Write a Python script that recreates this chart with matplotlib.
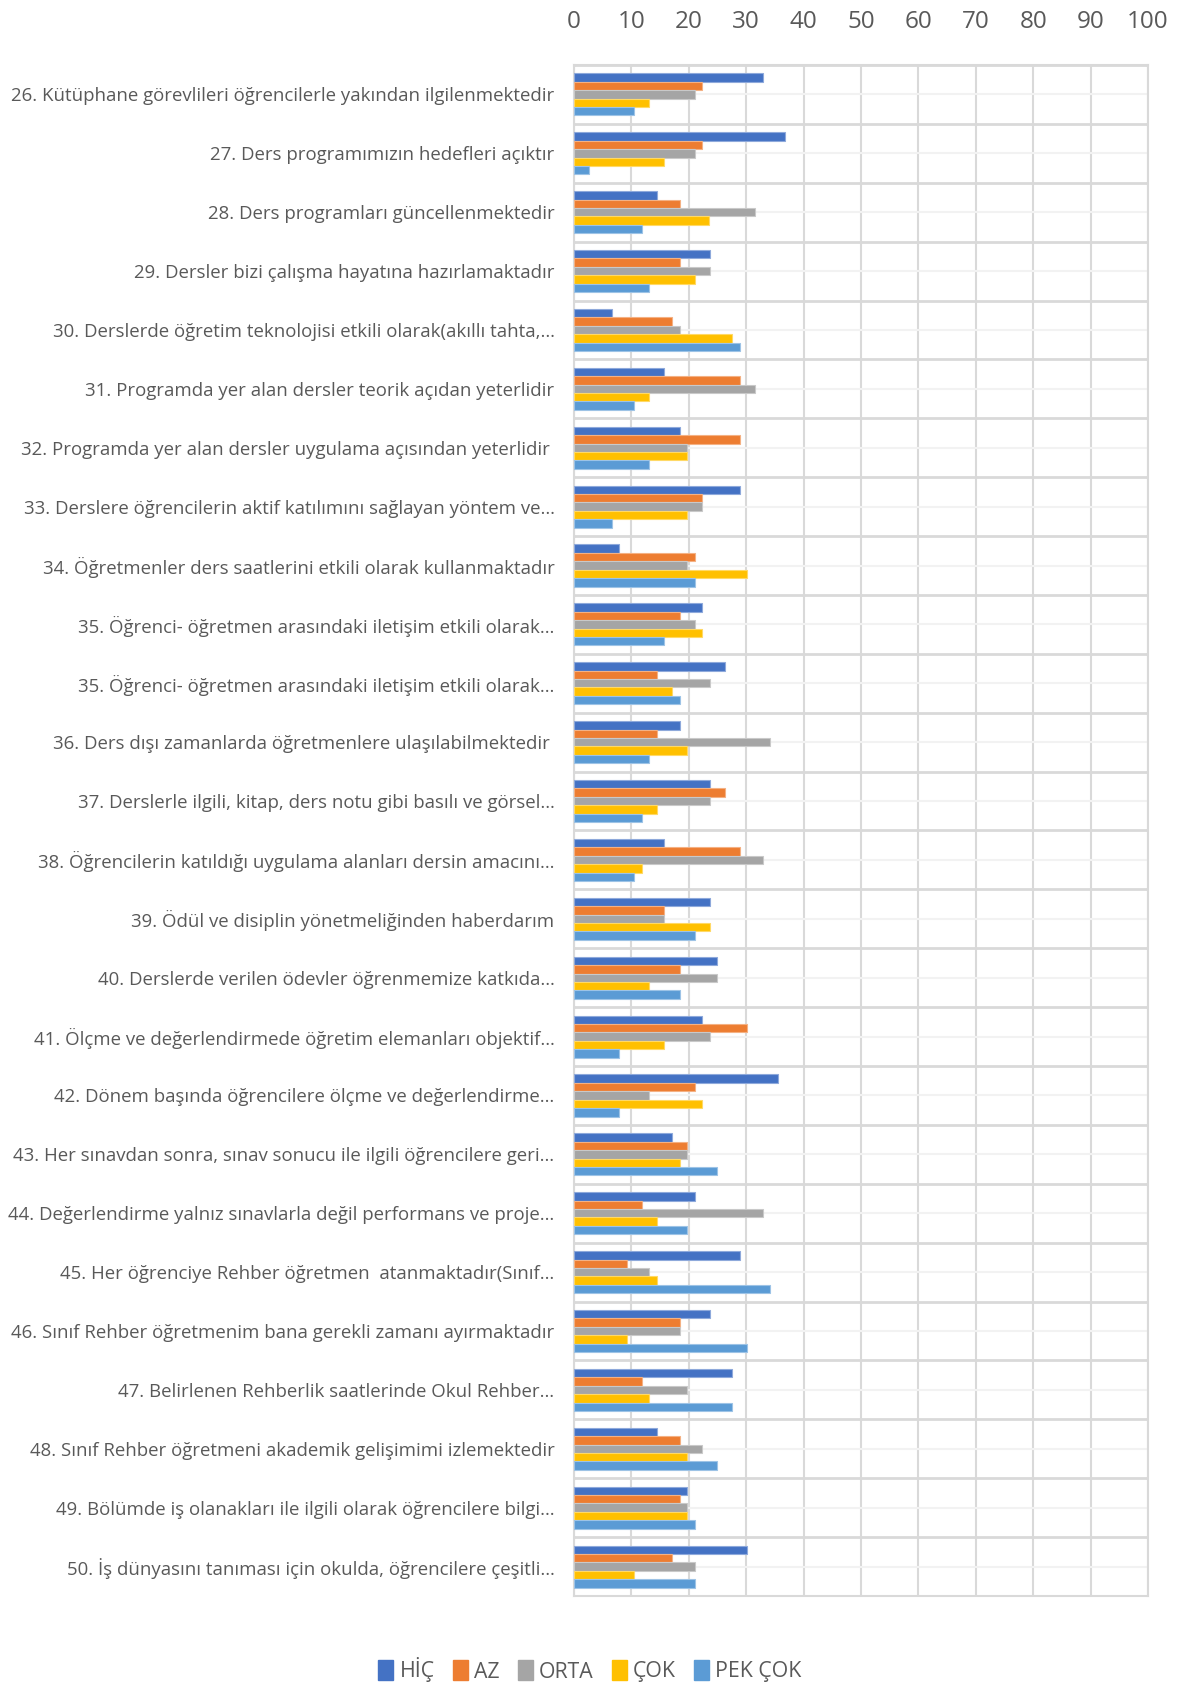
import numpy as np
import matplotlib
matplotlib.use("Agg")
import matplotlib.pyplot as plt
from matplotlib.patches import Patch

categories = [
    "26. Kütüphane görevlileri öğrencilerle yakından ilgilenmektedir",
    "27. Ders programımızın hedefleri açıktır",
    "28. Ders programları güncellenmektedir",
    "29. Dersler bizi çalışma hayatına hazırlamaktadır",
    "30. Derslerde öğretim teknolojisi etkili olarak(akıllı tahta,…",
    "31. Programda yer alan dersler teorik açıdan yeterlidir",
    "32. Programda yer alan dersler uygulama açısından yeterlidir ",
    "33. Derslere öğrencilerin aktif katılımını sağlayan yöntem ve…",
    "34. Öğretmenler ders saatlerini etkili olarak kullanmaktadır",
    "35. Öğrenci- öğretmen arasındaki iletişim etkili olarak…",
    "35. Öğrenci- öğretmen arasındaki iletişim etkili olarak…",
    "36. Ders dışı zamanlarda öğretmenlere ulaşılabilmektedir ",
    "37. Derslerle ilgili, kitap, ders notu gibi basılı ve görsel…",
    "38. Öğrencilerin katıldığı uygulama alanları dersin amacını…",
    "39. Ödül ve disiplin yönetmeliğinden haberdarım",
    "40. Derslerde verilen ödevler öğrenmemize katkıda…",
    "41. Ölçme ve değerlendirmede öğretim elemanları objektif…",
    "42. Dönem başında öğrencilere ölçme ve değerlendirme…",
    "43. Her sınavdan sonra, sınav sonucu ile ilgili öğrencilere geri…",
    "44. Değerlendirme yalnız sınavlarla değil performans ve proje…",
    "45. Her öğrenciye Rehber öğretmen  atanmaktadır(Sınıf…",
    "46. Sınıf Rehber öğretmenim bana gerekli zamanı ayırmaktadır",
    "47. Belirlenen Rehberlik saatlerinde Okul Rehber…",
    "48. Sınıf Rehber öğretmeni akademik gelişimimi izlemektedir",
    "49. Bölümde iş olanakları ile ilgili olarak öğrencilere bilgi…",
    "50. İş dünyasını tanıması için okulda, öğrencilere çeşitli…",
]

series_names = ["HİÇ", "AZ", "ORTA", "ÇOK", "PEK ÇOK"]

hic = [32.9, 36.8, 14.4, 23.7, 6.6, 15.7, 18.4, 28.9, 7.8, 22.3, 26.3, 18.4, 23.7,
       15.7, 23.7, 24.9, 22.3, 35.5, 17.0, 21.0, 28.9, 23.7, 27.6, 14.4, 19.7, 30.2]
az = [22.3, 22.3, 18.4, 18.4, 17.0, 28.9, 28.9, 22.3, 21.0, 18.4, 14.4, 14.4, 26.3,
      28.9, 15.7, 18.4, 30.2, 21.0, 19.7, 11.8, 9.2, 18.4, 11.8, 18.4, 18.4, 17.0]
orta = [21.0, 21.0, 31.5, 23.7, 18.4, 31.5, 19.7, 22.3, 19.7, 21.0, 23.7, 34.1, 23.7,
        32.9, 15.7, 24.9, 23.7, 13.1, 19.7, 32.9, 13.1, 18.4, 19.7, 22.3, 19.7, 21.0]
cok = [13.1, 15.7, 23.6, 21.0, 27.6, 13.1, 19.7, 19.7, 30.2, 22.3, 17.0, 19.7, 14.4,
       11.8, 23.7, 13.1, 15.7, 22.3, 18.4, 14.4, 14.4, 9.2, 13.1, 19.7, 19.7, 10.5]
pek_cok = [10.5, 2.6, 11.8, 13.1, 28.9, 10.5, 13.1, 6.6, 21.0, 15.7, 18.4, 13.1, 11.8,
           10.5, 21.0, 18.4, 7.8, 7.8, 24.9, 19.7, 34.1, 30.2, 27.6, 24.9, 21.0, 21.0]

x_ticks = [0, 10, 20, 30, 40, 50, 60, 70, 80, 90, 100]

colors = ["#4472C4", "#ED7D31", "#A5A5A5", "#FFC000", "#5B9BD5"]
edge_colors = ["#8EA9DB", "#F4B183", "#C9C9C9", "#FFD966", "#9DC3E6"]
text_color = "#595959"
grid_color = "#D9D9D9"

plt.rcParams["font.family"] = ["Open Sans", "DejaVu Sans"]

fig = plt.figure(figsize=(11.8, 16.86), dpi=100)
ax = fig.add_axes([574 / 1180, 1 - 1596 / 1686, (1148 - 574) / 1180, (1596 - 65) / 1686])

data = [hic, az, orta, cok, pek_cok]
n = len(categories)
y = np.arange(n)
bar_h = 0.143
for i, (vals, name) in enumerate(zip(data, series_names)):
    ax.barh(y + (i - 2) * bar_h, vals, height=bar_h, color=colors[i],
            edgecolor=edge_colors[i], linewidth=0.8, label=name, zorder=3)

ax.set_xlim(0, 100)
ax.set_ylim(n - 0.5, -0.5)
ax.set_xticks(x_ticks)
ax.xaxis.tick_top()
ax.tick_params(axis="x", length=0, pad=22, labelsize=17.5, labelcolor=text_color)
ax.set_yticks(y)
ax.set_yticklabels(categories)
ax.tick_params(axis="y", length=0, pad=14, labelsize=13.4, labelcolor=text_color)

ax.set_yticks(np.arange(-0.5, n, 1.0), minor=True)
ax.tick_params(axis="y", which="minor", length=0)
ax.grid(axis="x", color=grid_color, linewidth=1.5, zorder=0)
ax.grid(axis="y", which="minor", color=grid_color, linewidth=2.0, zorder=0)
ax.grid(axis="y", which="major", color="#F2F2F2", linewidth=1.5, zorder=0)
for s in ax.spines.values():
    s.set_color(grid_color)
    s.set_linewidth(1.5)

handles = [Patch(facecolor=c, edgecolor=c) for c in colors]
fig.legend(handles, series_names, loc="center", bbox_to_anchor=(0.5, 1 - 1670 / 1686),
           ncol=5, frameon=False, fontsize=15.3, labelcolor=text_color,
           handlelength=0.7, handleheight=1.1, handletextpad=0.3, columnspacing=0.85)

fig.savefig("out.png", dpi=100, facecolor="white")
